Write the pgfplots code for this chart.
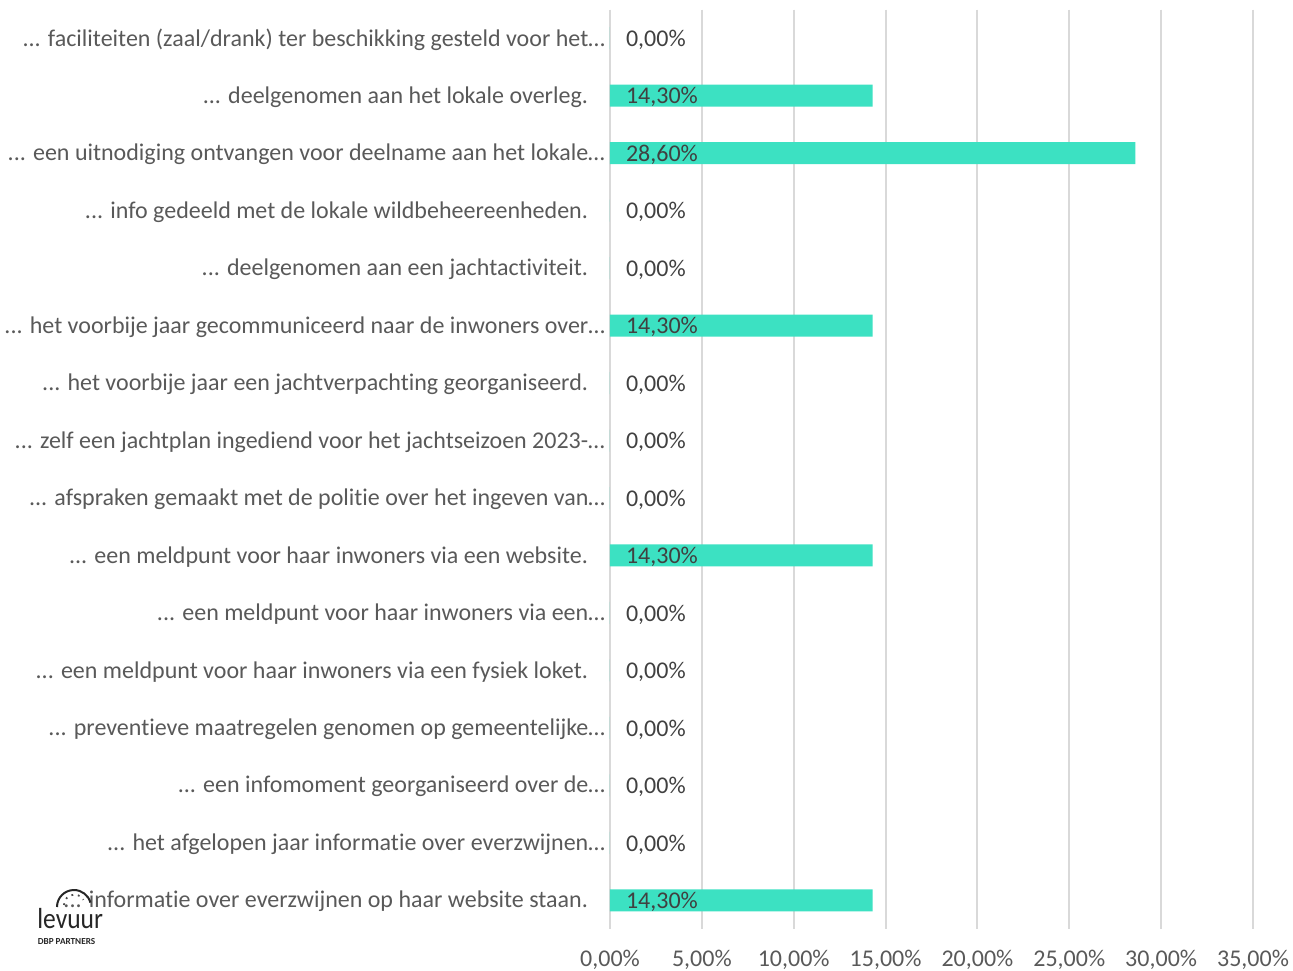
\documentclass[border=0pt]{standalone}
\usepackage{pgfplots}
\pgfplotsset{compat=1.18}
\usepackage{pgfplotstable}
\usepackage{fontspec}
\setmainfont{Carlito}[Ligatures={NoCommon}]
\definecolor{barc}{HTML}{3CE1C2}
\definecolor{lab}{HTML}{595959}
\definecolor{val}{HTML}{404040}
\definecolor{grd}{HTML}{D9D9D9}
\pgfplotstableread{
y val
0 0
1 14.3
2 28.6
3 0
4 0
5 14.3
6 0
7 0
8 0
9 14.3
10 0
11 0
12 0
13 0
14 0
15 14.3
}\datatab
\newcommand{\pad}{\hspace*{8.5pt}}
\newcommand{\dd}{.{}.{}.}
\begin{document}
\begin{tikzpicture}
\begin{axis}[
  at={(0,0)}, anchor=south west,
  scale only axis,
  width=321.5pt, height=459.75pt,
  xmin=0, xmax=35, ymin=-0.5, ymax=15.5,
  y dir=reverse,
  xtick={0,5,10,15,20,25,30,35},
  xmajorgrids, major grid style={grd, line width=1pt},
  axis line style={draw=none},
  tick style={draw=none},
  ytick={0,1,2,3,4,5,6,7,8,9,10,11,12,13,14,15},
  yticklabels={
    {\dd{} faciliteiten (zaal/drank) ter beschikking gesteld voor het…},
    {\dd{} deelgenomen aan het lokale overleg.\pad},
    {\dd{} een uitnodiging ontvangen voor deelname aan het lokale…},
    {\dd{} info gedeeld met de lokale wildbeheereenheden.\pad},
    {\dd{} deelgenomen aan een jachtactiviteit.\pad},
    {\dd{} het voorbije jaar gecommuniceerd naar de inwoners over…},
    {\dd{} het voorbije jaar een jachtverpachting georganiseerd.\pad},
    {\dd{} zelf een jachtplan ingediend voor het jachtseizoen 2023-…},
    {\dd{} afspraken gemaakt met de politie over het ingeven van…},
    {\dd{} een meldpunt voor haar inwoners via een website.\pad},
    {\dd{} een meldpunt voor haar inwoners via een…},
    {\dd{} een meldpunt voor haar inwoners via een fysiek loket.\pad},
    {\dd{} preventieve maatregelen genomen op gemeentelijke…},
    {\dd{} een infomoment georganiseerd over de…},
    {\dd{} het afgelopen jaar informatie over everzwijnen…},
    {\dd{} informatie over everzwijnen op haar website staan.\pad}},
  yticklabel style={font=\fontsize{12}{14}\selectfont, text=lab, anchor=east, xshift=1pt, yshift=-0.6pt},
  xticklabel style={font=\fontsize{12}{14}\selectfont, text=lab, yshift=-7pt},
  /pgf/number format/assume math mode=true,
  xticklabel={\pgfmathprintnumber[fixed, fixed zerofill, precision=2, use comma]{\tick}\%},
]
\addplot[xbar, bar width=11pt, fill=barc, draw=none, bar shift=0pt] table[x=val, y=y] {\datatab};
\addplot[draw=none, mark=none, point meta=\thisrow{val},
  nodes near coords={\pgfmathprintnumber[fixed, fixed zerofill, precision=2, use comma]{\pgfplotspointmeta}\%},
  every node near coord/.append style={anchor=west, xshift=4.5pt, yshift=-0.8pt, font=\fontsize{12}{14}\selectfont, text=val}]
  table[x expr=0, y=y] {\datatab};
\end{axis}
% logo
\begin{scope}[shift={(-286.5pt,0.5pt)}]
  \node[anchor=base west, inner sep=0pt, font=\fontsize{14.5}{14}\selectfont, text=black!85, xscale=0.88] at (0,0) {levuur};
  \node[anchor=base west, inner sep=0pt, font=\bfseries\fontsize{4.6}{5}\selectfont, text=black!85] at (0.2pt,-8pt) {DBP PARTNERS};
  \draw[line width=1pt, black!85] (10pt,10.5pt) arc[start angle=180, end angle=15, radius=8.5pt];
  \draw[line width=0.9pt, black!70, dash pattern=on 0.9pt off 2.4pt] (13.5pt,11.5pt) arc[start angle=180, end angle=30, radius=5.2pt];
\end{scope}
\pgfresetboundingbox
\useasboundingbox (-305pt,-20.5pt) rectangle (341.5pt,464.5pt);
\end{tikzpicture}
\end{document}
